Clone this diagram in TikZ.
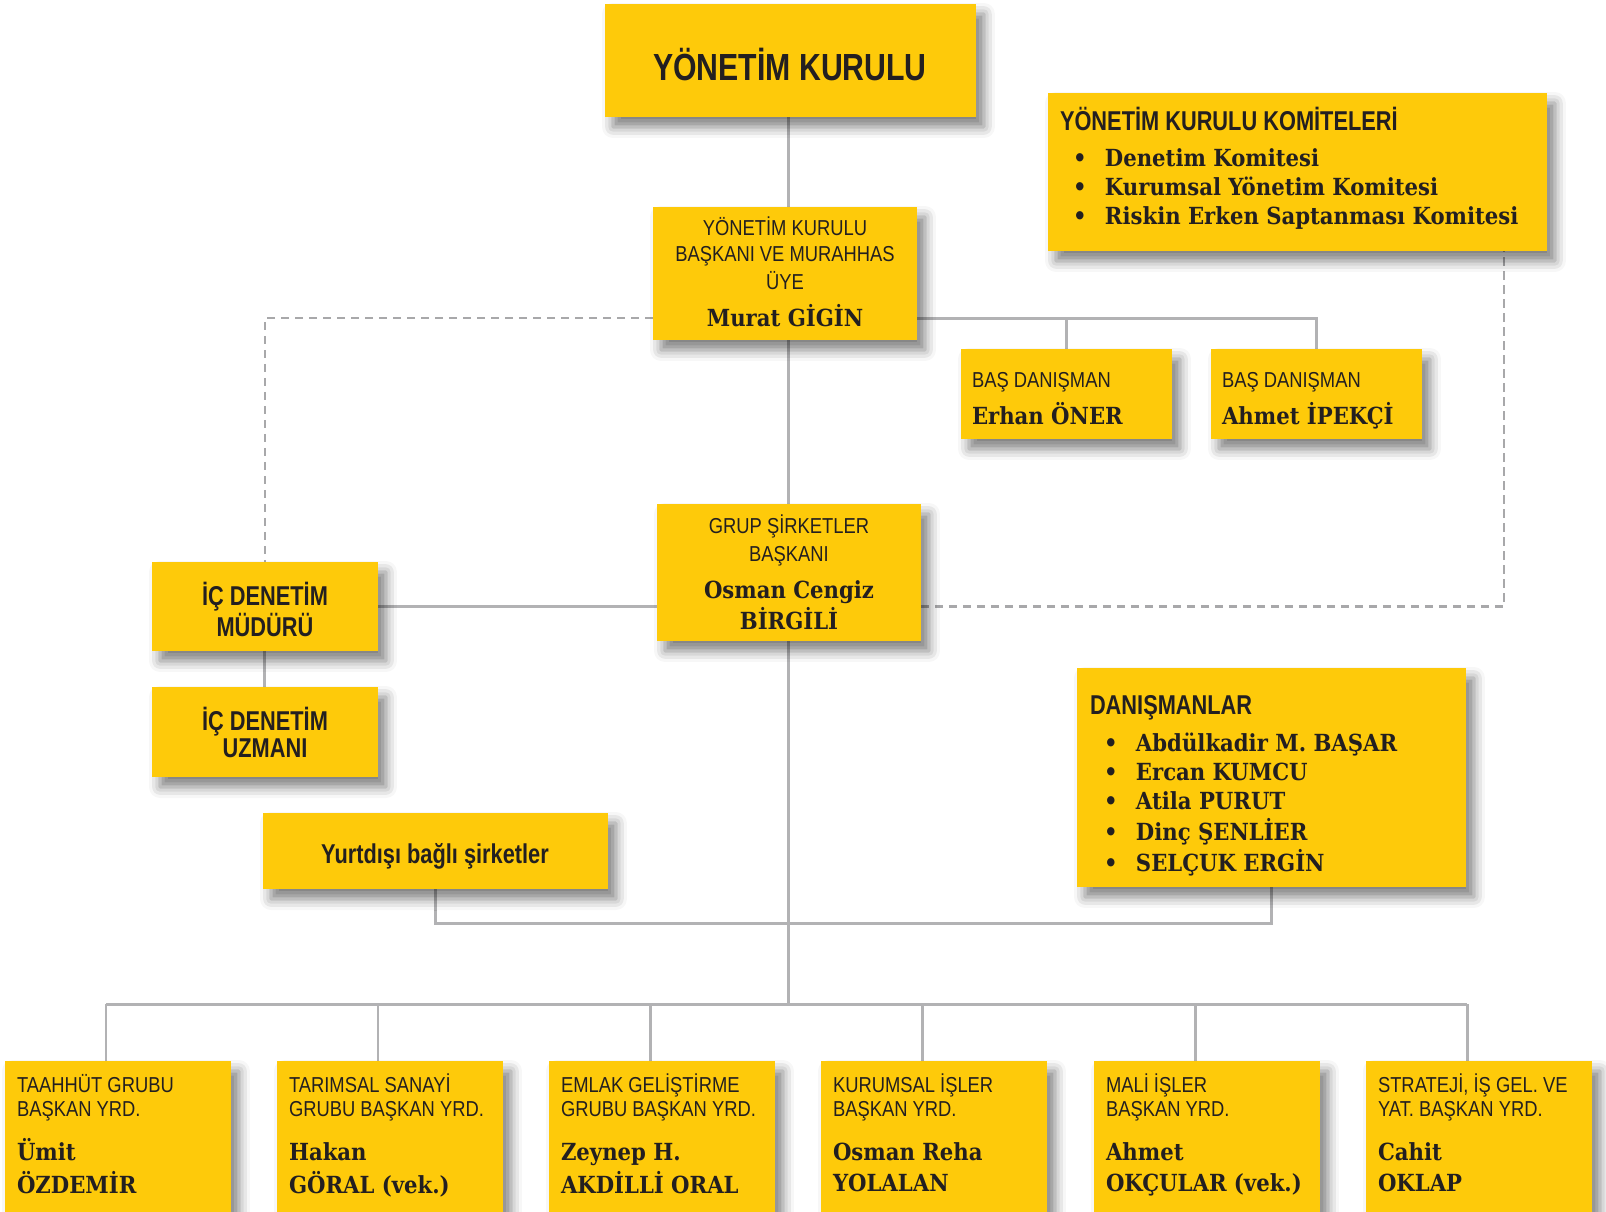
\documentclass[tikz,border=0pt]{standalone}
\usepackage{fontspec}
\setmainfont{Liberation Sans}
\newfontfamily\condsans[FakeStretch=0.85]{Liberation Sans}
\newfontfamily\condbold[FakeStretch=0.8]{Liberation Sans}
\newfontfamily\slabfont[FakeStretch=0.9]{DejaVu Serif}
\usetikzlibrary{backgrounds,shadows.blur}
\definecolor{boxyellow}{RGB}{254,202,10}
\definecolor{ink}{RGB}{35,31,32}
\definecolor{linegray}{RGB}{178,178,180}
\definecolor{dashgray}{RGB}{168,168,170}
\newcommand{\rows}[2]{\begin{tabular}[t]{@{}#1@{}}#2\end{tabular}}

\begin{document}
\begin{tikzpicture}[x=0.02cm, y=-0.02cm,
    box/.style={fill=boxyellow, inner sep=0pt, outer sep=0pt, anchor=north west,
      blur shadow={shadow xshift=0.16cm, shadow yshift=-0.2cm, shadow blur radius=0.22cm, shadow opacity=50}},
    txt/.style={inner sep=0pt, outer sep=0pt, anchor=base west, text=ink},
    ctxt/.style={txt, anchor=base},
    hd/.style={font=\condsans\fontsize{12.3}{13.7}\selectfont},
    bhd/.style={font=\condbold\bfseries\fontsize{15.5}{15.4}\selectfont},
    big/.style={font=\condbold\bfseries\fontsize{21.5}{26}\selectfont},
    nm/.style={font=\slabfont\bfseries\fontsize{13.4}{16.7}\selectfont},
    link/.style={draw=linegray, line width=1.7pt},
    dashlink/.style={draw=dashgray, line width=1.5pt, dash pattern=on 0.17cm off 0.11cm}]
\useasboundingbox (0,0) rectangle (1606,1211);

% top of the chart
\node[box, minimum width=7.42cm, minimum height=2.26cm] (yk) at (605,4) {};
\node[big, ctxt] (ykT) at (790,80) {YÖNETİM KURULU};

\node[box, minimum width=5.28cm, minimum height=2.66cm] (baskan) at (653,207) {};
\node[hd, ctxt] (baskanT) at (785,235) {\rows{c}{YÖNETİM KURULU\\[1.4pt] BAŞKANI VE MURAHHAS\\[1.4pt] ÜYE}};
\node[nm, ctxt] (baskanN) at (785,326) {Murat GİGİN};

\node[box, minimum width=9.98cm, minimum height=3.16cm] (komite) at (1048,93) {};
\node[bhd, txt] (komiteT) at (1060,130) {YÖNETİM KURULU KOMİTELERİ};
\node[nm, txt] (komiteL) at (1073,166) {\rows{p{0.64cm}@{}l}{•&Denetim Komitesi\\ •&Kurumsal Yönetim Komitesi\\ •&Riskin Erken Saptanması Komitesi}};

% advisors
\node[box, minimum width=4.22cm, minimum height=1.8cm] (erhan) at (961,349) {};
\node[hd, txt] (erhanT) at (972,387) {BAŞ DANIŞMAN};
\node[nm, txt] (erhanN) at (972,424) {Erhan ÖNER};
\node[box, minimum width=4.22cm, minimum height=1.8cm] (ahmet) at (1211,349) {};
\node[hd, txt] (ahmetT) at (1222,387) {BAŞ DANIŞMAN};
\node[nm, txt] (ahmetN) at (1222,424) {Ahmet İPEKÇİ};

% middle
\node[box, minimum width=5.28cm, minimum height=2.74cm] (grup) at (657,504) {};
\node[hd, ctxt] (grupT) at (789,533) {\rows{c}{GRUP ŞİRKETLER\\[2.3pt] BAŞKANI}};
\node[nm, ctxt] (grupN) at (789,598) {\rows{c}{Osman Cengiz\\[0.3pt] BİRGİLİ}};

\node[box, minimum width=4.52cm, minimum height=1.78cm] (icmudur) at (152,562) {};
\node[bhd, ctxt] (icmudurT) at (265,605) {\rows{c}{İÇ DENETİM\\ MÜDÜRÜ}};
\node[box, minimum width=4.52cm, minimum height=1.8cm] (icuzman) at (152,687) {};
\node[bhd, ctxt] (icuzmanT) at (265,730) {\rows{c}{İÇ DENETİM\\ UZMANI}};

\node[box, minimum width=6.9cm, minimum height=1.52cm] (yurtdisi) at (263,813) {};
\node[bhd, ctxt] (yurtdisiT) at (435,863) {Yurtdışı bağlı şirketler};

\node[box, minimum width=7.78cm, minimum height=4.38cm] (danisman) at (1077,668) {};
\node[bhd, txt] (danismanT) at (1090,714) {DANIŞMANLAR};
\node[nm, txt] (danismanL) at (1104,751) {\rows{p{0.64cm}@{}l}{•&Abdülkadir M. BAŞAR\\ •&Ercan KUMCU\\ •&Atila PURUT\\ •&Dinç ŞENLİER\\ •&SELÇUK ERGİN}};

% vice presidents
\foreach \i/\x/\ta/\tb/\na/\nb in {1/5/{TAAHHÜT GRUBU}/{BAŞKAN YRD.}/{Ümit}/{ÖZDEMİR},
    2/277/{TARIMSAL SANAYİ}/{GRUBU BAŞKAN YRD.}/{Hakan}/{GÖRAL (vek.)},
    3/549/{EMLAK GELİŞTİRME}/{GRUBU BAŞKAN YRD.}/{Zeynep H.}/{AKDİLLİ ORAL},
    4/821/{KURUMSAL İŞLER}/{BAŞKAN YRD.}/{Osman Reha}/{YOLALAN},
    5/1094/{MALİ İŞLER}/{BAŞKAN YRD.}/{Ahmet}/{OKÇULAR (vek.)},
    6/1366/{STRATEJİ, İŞ GEL. VE}/{YAT. BAŞKAN YRD.}/{Cahit}/{OKLAP}} {
  \node[box, minimum width=4.52cm, minimum height=3.04cm] (b\i) at (\x,1061) {};
  \node[hd, txt] (b\i T) at (\x+12,1092) {\rows{l}{\ta\\ \tb}};
  \node[nm, txt] (b\i N) at (\x+12,1160) {\rows{l}{\na\\[1.5pt] \nb}};
  \coordinate (d\i) at (\x+101,1004);
}

\coordinate (spine) at (788,0);
\coordinate (advrow) at (0,318);
\coordinate (abroad) at (0,923);
\coordinate (komdrop) at (1504,0);

\begin{scope}[on background layer]
\draw[link] (yk.south -| spine) -- (baskan.north -| spine);
\draw[link] (baskan.south -| spine) -- (grup.north -| spine);
\draw[link] (grup.south -| spine) -- (d1 -| spine);
\draw[link] (d1) -- (d6);
\foreach \i in {1,...,6} \draw[link] (d\i) -- (d\i |- b\i.north);
\draw[link] (baskan.east |- advrow) -| (ahmet.north);
\draw[link] (erhan.north) -- (erhan.north |- advrow);
\draw[dashlink] (baskan.west |- advrow) -| (icmudur.north);
\draw[link] (icmudur.east) -- (icmudur.east -| grup.west);
\draw[link] (icmudur.south) -- (icuzman.north);
\draw[dashlink] (icmudur.east -| grup.east) -| (komite.south -| komdrop);
\draw[link] (yurtdisi.south) |- (danisman.south |- abroad) -- (danisman.south);
\end{scope}
\end{tikzpicture}
\end{document}
